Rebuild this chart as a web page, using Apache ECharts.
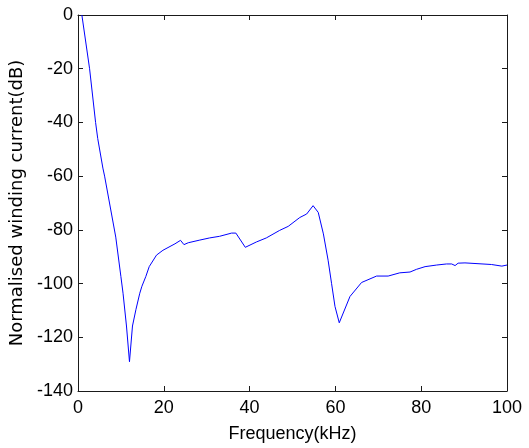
<!DOCTYPE html>
<html>
<head>
<meta charset="utf-8">
<script src="https://cdn.jsdelivr.net/npm/echarts@6/dist/echarts.min.js"></script>
<style>
  html, body { margin: 0; padding: 0; background: #fff; }
  #chart { width: 529px; height: 448px; }
</style>
</head>
<body>
<div id="chart"></div>
<script>
// Frequency sweep (kHz) and normalised winding current (dB)
const freqKHz = [
  0.9, 2.7, 4.1, 4.6, 5.8, 6.2, 8.8, 10.0, 10.5, 11.3, 12.0,
  12.7, 13.5, 14.4, 14.9, 15.8, 16.6, 18.3, 19.8, 22.6, 23.9,
  24.7, 25.7, 28.4, 30.7, 33.0, 35.8, 36.8, 39.0, 41.6, 43.9,
  47.0, 49.0, 51.7, 53.3, 54.8, 56.0, 57.2, 58.3, 59.1, 59.9,
  60.9, 63.4, 66.1, 69.6, 72.3, 75.0, 77.4, 78.9, 80.9, 83.6,
  85.9, 87.1, 87.9, 88.6, 90.2, 96.4, 98.8, 100.0
];
const currentDB = [
  0, -20, -40, -46, -57, -60, -82.7, -97.4, -103.6, -115.8, -129.1,
  -115.8, -109.7, -103.6, -101, -97.4, -93.7, -89.4, -87.6, -85.2, -83.9,
  -85.5, -84.8, -83.8, -83.0, -82.4, -81.2, -81.2, -86.5, -84.5, -83.0,
  -80.2, -78.7, -75.4, -74.1, -71.0, -73.5, -81.5, -91.3, -99.9, -108.5,
  -114.6, -104.8, -99.6, -97.2, -97.2, -96.0, -95.7, -94.7, -93.7, -93.1,
  -92.7, -92.7, -93.3, -92.4, -92.3, -92.9, -93.5, -93.1
];

// Axis ranges and tick spacing
const xRange = [0, 100], xStep = 20;
const yRange = [-140, 0], yStep = 20;
const xTitle = 'Frequency(kHz)';
const yTitle = 'Normalised winding current(dB)';

const points = freqKHz.map((f, i) => [f, currentDB[i]]);

const axisColor = '#1a1a1a';
const labelFont = { color: '#000', fontFamily: 'Liberation Sans, Arial, sans-serif', fontSize: 18 };

function boxAxis(base, showLabels) {
  return Object.assign({
    type: 'value',
    axisLine: { show: true, onZero: false, lineStyle: { color: axisColor, width: 1 } },
    axisTick: { show: true, inside: true, length: 5, lineStyle: { color: axisColor } },
    splitLine: { show: false },
    axisLabel: showLabels ? Object.assign({}, labelFont) : { show: false }
  }, base);
}

const chart = echarts.init(document.getElementById('chart'), null, { renderer: 'canvas' });
chart.setOption({
  animation: false,
  backgroundColor: '#fff',
  grid: { left: 78, right: 22, top: 15, bottom: 52, containLabel: false },
  xAxis: [
    boxAxis({
      position: 'bottom', min: xRange[0], max: xRange[1], interval: xStep,
      name: xTitle, nameLocation: 'middle', nameGap: 34,
      nameTextStyle: Object.assign({}, labelFont),
      axisLabel: Object.assign({ margin: 8 }, labelFont)
    }, true),
    boxAxis({ position: 'top', min: xRange[0], max: xRange[1], interval: xStep }, false)
  ],
  yAxis: [
    boxAxis({
      position: 'left', min: yRange[0], max: yRange[1], interval: yStep,
      name: yTitle, nameLocation: 'middle', nameGap: 45, nameRotate: 90,
      nameTextStyle: Object.assign({}, labelFont, { fontFamily: 'DejaVu Sans, sans-serif', fontSize: 18 }),
      axisLabel: Object.assign({ margin: 5 }, labelFont)
    }, true),
    boxAxis({ position: 'right', min: yRange[0], max: yRange[1], interval: yStep }, false)
  ],
  series: [{
    type: 'line',
    data: points,
    xAxisIndex: 0,
    yAxisIndex: 0,
    showSymbol: false,
    lineStyle: { color: '#0000ff', width: 1 },
    itemStyle: { color: '#0000ff' }
  }]
});
</script>
</body>
</html>
